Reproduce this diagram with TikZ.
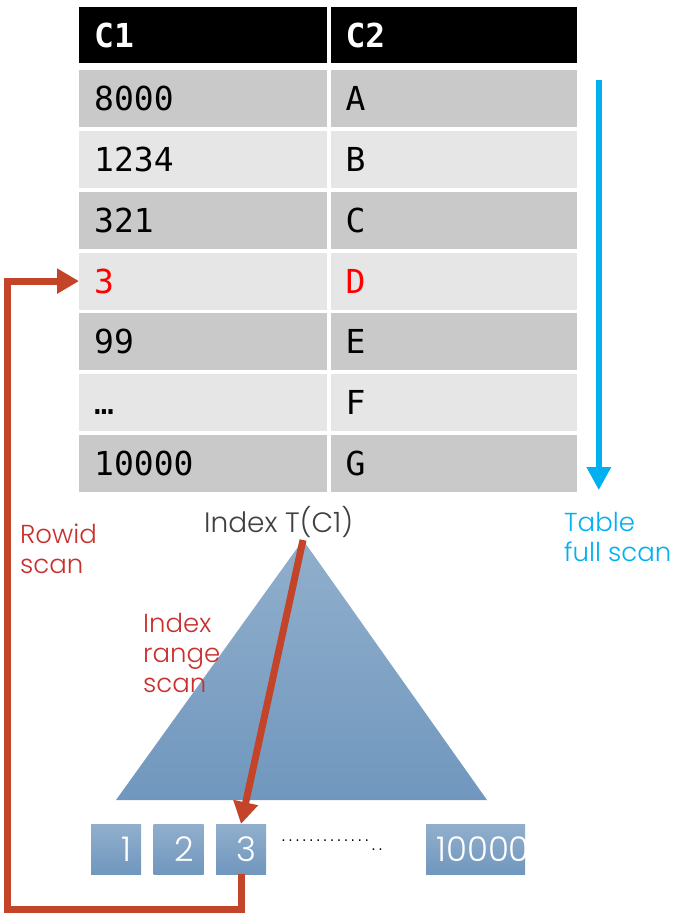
\documentclass[tikz,border=0pt]{standalone}
\usepackage{fontspec}
\usetikzlibrary{arrows.meta}
\usetikzlibrary{positioning}
\usetikzlibrary{calc}

\newfontfamily\monofont{DejaVu Sans Mono}
\newfontfamily\thinfont{Poppins Light}

\definecolor{rowdark}{RGB}{201,201,201}
\definecolor{rowlight}{RGB}{230,230,230}
\definecolor{scanred}{RGB}{196,68,42}
\definecolor{labelred}{RGB}{200,48,46}
\definecolor{fullblue}{RGB}{0,176,240}
\definecolor{treetop}{RGB}{145,175,204}
\definecolor{treebot}{RGB}{112,151,190}

\begin{document}
\begin{tikzpicture}[x=1pt,y=-1pt,
        cell/.style={rectangle, anchor=north west, minimum height=57pt,
            inner xsep=15pt, inner ysep=0pt, text width=218pt, align=left,
            text height=24pt, text depth=0pt,
            font=\monofont\fontsize{33}{33}\selectfont},
        leaf/.style={rectangle, anchor=north west, top color=treetop, bottom color=treebot,
            minimum width=50pt, minimum height=50pt, inner xsep=10pt, inner ysep=0pt,
            text width=30pt, align=right, text height=24pt, text depth=0pt, text=white,
            font=\thinfont\fontsize{34}{34}\selectfont},
        note/.style={anchor=base west, inner sep=0pt, align=left,
            font=\thinfont\fontsize{26}{30}\selectfont},
        scan/.style={draw=scanred, line width=7pt, line join=miter,
            -{Triangle[length=22pt,width=24pt]}}]

                \useasboundingbox (0,0) rectangle (699,915);

                % table
                \node[cell, minimum height=56pt, fill=black, text=white,
                      font=\monofont\bfseries\fontsize{33}{33}\selectfont] (h_1) at (79,7) {C1};
                \node[cell, minimum height=56pt, text width=216pt, fill=black, text=white,
                      font=\monofont\bfseries\fontsize{33}{33}\selectfont] (h_2) [right = 3pt of h_1] {C2};
                \foreach \i/\k/\v/\bg/\fg in {1/8000/A/rowdark/black, 2/1234/B/rowlight/black,
                        3/321/C/rowdark/black, 4/3/D/rowlight/red, 5/99/E/rowdark/black,
                        6/…/F/rowlight/black, 7/10000/G/rowdark/black} {
                    \pgfmathsetmacro\rowy{70+(\i-1)*60.8}
                    \node[cell, fill=\bg, text=\fg] (c1_\i) at (79,\rowy) {\k};
                    \node[cell, text width=216pt, fill=\bg, text=\fg] (c2_\i) [right = 3pt of c1_\i] {\v};
                }

                % index tree
                \coordinate (apex) at (303,540);
                \shade[top color=treetop, bottom color=treebot] (apex) -- (116,800) -- (487,800) -- cycle;
                \node[note, font=\thinfont\fontsize{28}{30}\selectfont, text=black!75] (idx) at (204,532) {Index T(C1)};

                \node[leaf] (b_1) at (91,824) {1};
                \node[leaf] (b_2) [right = 12pt of b_1] {2};
                \node[leaf] (b_3) [right = 12pt of b_2] {3};
                \node[font=\monofont\fontsize{11.5}{12}\selectfont, anchor=west, inner sep=0pt] (dots) at (280,845)
                    {.............\raisebox{-9pt}{..}};
                \node[leaf, minimum width=99pt, text width=79pt, align=left] (b_n) at (426,824) {10000};

                % labels (base = last line)
                \node[note, text=labelred] (rowid) at (20,573) {Rowid\\scan};
                \node[note, text=labelred] (range) at (143,692) {Index\\range\\scan};
                \node[note, text=fullblue] (full) at (564,561) {Table\\full scan};

                % scans
                \coordinate (corner) at (7,909);
                \draw[scan] (apex) -- (b_3.north);
                \draw[scan] (b_3.south) |- (corner) |- (c1_4.west);
                \draw[fullblue, line width=6pt, -{Triangle[length=23pt,width=23pt]}]
                    ([xshift=22pt,yshift=-10pt]c2_1.north east) -- ([xshift=22pt,yshift=2pt]c2_7.south east);

\end{tikzpicture}
\end{document}
